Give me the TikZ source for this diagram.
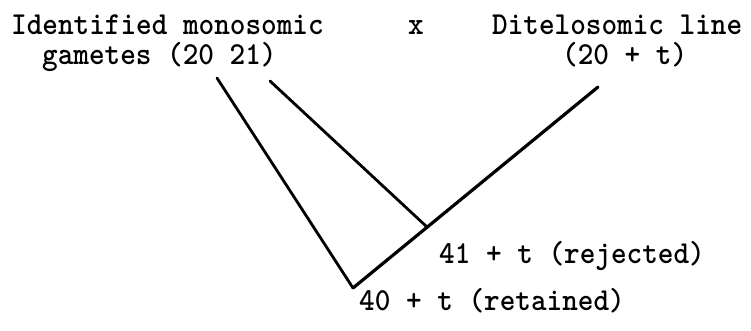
\documentclass[tikz,border=0pt]{standalone}
\newcommand{\tw}[1]{\scalebox{0.93}[1]{\fontsize{32}{32}\selectfont\ttfamily\bfseries #1}}
\tikzset{
  lbl/.style={anchor=base west, inner sep=0pt},
  conn/.style={line width=2.8pt, line cap=round, line join=miter}
}
\begin{document}
\begin{tikzpicture}[x=1pt,y=-1pt]
\useasboundingbox (0,0) rectangle (751,331);
\node[lbl] (t1) at (11,35) {\tw{Identified monosomic}};
\node[lbl] (t2) at (42,65) {\tw{gametes (20 21)}};
\node[lbl] (tx) at (408,35) {\tw{x}};
\node[lbl] (t3) at (492,35) {\tw{Ditelosomic line}};
\node[lbl] (t4) at (562,65) {\tw{(20 + t)}};
\node[lbl] (rej) at (439,263) {\tw{41 + t (rejected)}};
\node[lbl] (ret) at (359,310) {\tw{40 + t (retained)}};
\coordinate (a) at (217,78);
\coordinate (c) at (270,81);
\coordinate (e) at (598,87);
\coordinate (b) at (353,288);
\coordinate (d) at (427,227);
\draw[conn] (a) -- (b);
\draw[conn] (c) -- (d);
\draw[conn, line width=3.2pt] (e) -- (b);
\end{tikzpicture}
\end{document}
